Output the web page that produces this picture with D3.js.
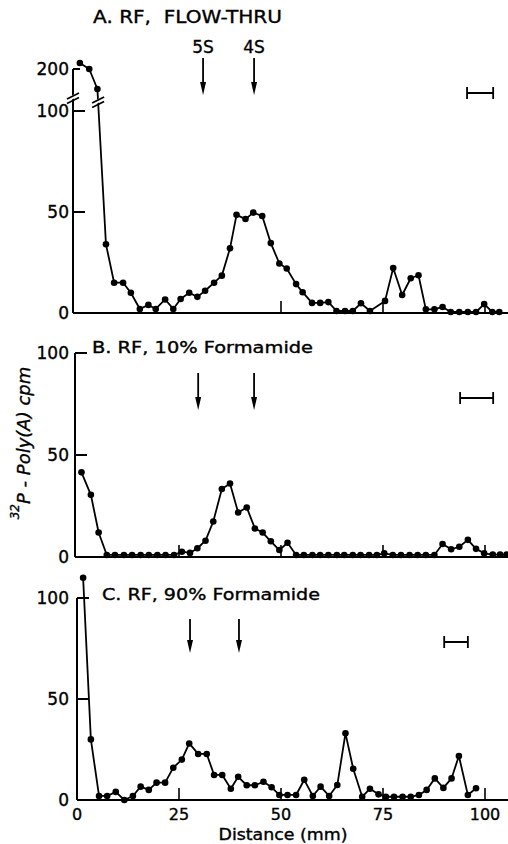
<!DOCTYPE html>
<html>
<head>
<meta charset="utf-8">
<script src="https://cdn.jsdelivr.net/npm/d3@7/dist/d3.min.js"></script>
<style>
  body { margin: 0; background: #fff; }
  text { font-family: "DejaVu Sans", sans-serif; fill: #000; stroke: #000; stroke-width: 0.35; }
</style>
</head>
<body>
<svg id="fig" width="508" height="844"></svg>
<script>
// distance (mm) and 32P-poly(A) cpm
var distA = [0.7,3.0,5.0,7.1,9.1,11.3,13.2,15.4,17.5,19.3,21.6,23.6,25.4,27.5,29.5,31.4,33.6,35.5,37.5,39.1,41.3,43.2,45.4,47.5,49.6,51.4,53.7,55.3,57.6,59.6,61.6,63.6,65.7,67.6,69.6,71.8,75.5,77.5,79.7,81.8,83.7,85.5,87.6,89.6,91.6,93.7,95.8,97.8,99.8,101.8,103.5];
var cpmA  = [203,200,190,34,15,15,10,2,4,2,6.7,2,6.9,10,8,11,15,18.5,32,48.6,46.5,49.7,48,34.6,24.5,22,14.3,10.3,5,5,5.4,1,1,1,4.8,1,6,22.3,8.9,17.2,18.7,1.8,1.8,3,0.5,0.5,0.5,0.5,4.4,0.5,0.5];

var distB = [1.1,3.4,5.3,7.3,9.3,11.5,13.5,15.6,17.6,19.7,21.7,23.8,25.7,27.7,29.5,31.5,33.4,35.5,37.5,39.5,41.6,43.6,45.5,47.5,49.6,51.6,53.7,55.6,57.7,59.6,61.6,63.7,65.5,67.6,69.5,71.6,73.5,75.3,77.4,79.4,81.5,83.5,85.5,87.6,89.6,91.7,93.7,95.8,97.8,99.8,101.9,103.7,105.3];
var cpmB  = [41.5,30.5,12,1,1,1,1,1,1,1,1,1,2.6,2,4.3,8,17.4,33.3,36,21.8,24.3,14,12,7.7,3.4,7,1,1,1,1,1,1,1,1,1,1,1,1.8,1,1,1,1,1,1,6.4,3.8,5,8.4,4,1.8,1.2,1.2,1.2];

var distC = [1.5,3.4,5.4,7.4,9.5,11.6,13.7,15.6,17.6,19.5,21.6,23.6,25.7,27.5,29.7,31.8,33.6,35.6,37.7,39.5,41.6,43.6,45.7,47.7,49.6,51.6,53.7,55.7,57.8,59.7,61.8,63.8,65.8,67.7,69.9,71.8,73.9,75.7,77.7,79.8,81.8,83.8,85.7,87.7,89.8,91.8,93.6,95.8,97.8];
var cpmC  = [110,30,2,2,4,0,2,6.6,5,8.6,8.6,16,20,28,22.8,22.8,12.4,12.4,5.6,11.5,7.3,7.3,9,6.3,2.5,2.5,2.5,10,2,6.6,2,7.4,33,15.5,1.6,5.6,2.8,1.6,1.6,1.6,1.6,2.5,5,10.7,6,10.7,21.8,2.5,5.8];

// marker positions (mm) and bar ends (mm)
var arrowsA = [30.9, 43.4];
var arrowLabelsA = ["5S", "4S"];
var arrowsB = [29.7, 43.4];
var arrowsC = [27.7, 39.7];
var barA = [95.6, 102];
var barB = [93.9, 102];
var barC = [90, 95.8];

var xTickVals = [0, 25, 50, 75, 100];
var yTickValsA = [0, 50, 100];
var yTickValsB = [0, 50, 100];
var yTickValsC = [0, 50, 100];

var svg = d3.select("#fig");
var x = d3.scaleLinear().domain([0, 100]).range([77, 485]);

var panels = [
  {dist: distA, cpm: cpmA, y: d3.scaleLinear().domain([0, 100]).range([313, 111]),
   axisX: 73, yTop: 69, yTicks: yTickValsA, xTicks: [50, 75, 100],
   title: "A. RF,  FLOW-THRU", tx: 93, ty: 23, tlen: 189, tsize: 17,
   arrows: arrowsA, arrowTop: 58, arrowTip: 95, bar: barA, barY: 93},
  {dist: distB, cpm: cpmB, y: d3.scaleLinear().domain([0, 100]).range([557, 353]),
   axisX: 75, yTop: 353, yTicks: yTickValsB, xTicks: [25, 50, 75, 100],
   title: "B. RF, 10% Formamide", tx: 92, ty: 353, tlen: 221, tsize: 15,
   arrows: arrowsB, arrowTop: 373, arrowTip: 410, bar: barB, barY: 398},
  {dist: distC, cpm: cpmC, y: d3.scaleLinear().domain([0, 100]).range([800, 598]),
   axisX: 77, yTop: 598, yTicks: yTickValsC, xTicks: [25, 50, 75, 100],
   title: "C. RF, 90% Formamide", tx: 102, ty: 600, tlen: 218, tsize: 15,
   arrows: arrowsC, arrowTop: 619, arrowTip: 653, bar: barC, barY: 642}
];

// upper part of the broken axis in panel A
var yAtop = d3.scaleLinear().domain([190, 205]).range([89, 59]);
panels[0].yf = v => v > 100 ? yAtop(v) : panels[0].y(v);
panels[1].yf = panels[1].y;
panels[2].yf = panels[2].y;

var ink = "#000";

panels.forEach(function(p, i) {
  var g = svg.append("g");
  var y0 = p.y(0);

  // axes
  g.append("line").attr("x1", p.axisX).attr("x2", 508).attr("y1", y0).attr("y2", y0)
    .attr("stroke", ink).attr("stroke-width", 2);
  g.append("line").attr("x1", p.axisX).attr("x2", p.axisX).attr("y1", p.yTop).attr("y2", y0)
    .attr("stroke", ink).attr("stroke-width", 2);

  g.selectAll(".yt").data(p.yTicks).enter().append("line")
    .attr("x1", p.axisX).attr("x2", p.axisX + 12)
    .attr("y1", d => p.y(d)).attr("y2", d => p.y(d))
    .attr("stroke", ink).attr("stroke-width", 2);
  g.selectAll(".yl").data(p.yTicks).enter().append("text")
    .attr("x", 69).attr("y", d => p.y(d)).attr("dy", "0.36em")
    .attr("text-anchor", "end").attr("font-size", 17)
    .text(d => d);

  g.selectAll(".xt").data(p.xTicks).enter().append("line")
    .attr("x1", d => x(d)).attr("x2", d => x(d))
    .attr("y1", y0).attr("y2", y0 - 12)
    .attr("stroke", ink).attr("stroke-width", 1.6);

  // profile
  var line = d3.line().x(d => x(d[0])).y(d => p.yf(d[1]));
  var pts = d3.zip(p.dist, p.cpm);
  g.append("path").datum(pts).attr("d", line)
    .attr("fill", "none").attr("stroke", ink).attr("stroke-width", 1.8)
    .attr("stroke-linejoin", "round");
  g.selectAll("circle").data(pts).enter().append("circle")
    .attr("cx", d => x(d[0])).attr("cy", d => p.yf(d[1])).attr("r", 3.3)
    .attr("fill", ink);

  // title
  g.append("text").attr("x", p.tx).attr("y", p.ty)
    .attr("font-size", p.tsize).attr("textLength", p.tlen)
    .attr("lengthAdjust", "spacingAndGlyphs")
    .style("white-space", "pre")
    .text(p.title);

  // sedimentation markers
  p.arrows.forEach(function(a) {
    var ax = x(a);
    g.append("line").attr("x1", ax).attr("x2", ax).attr("y1", p.arrowTop).attr("y2", p.arrowTip - 10)
      .attr("stroke", ink).attr("stroke-width", 1.8);
    g.append("path")
      .attr("d", `M${ax - 3},${p.arrowTip - 13}L${ax + 3},${p.arrowTip - 13}L${ax},${p.arrowTip}Z`)
      .attr("fill", ink);
  });

  // bar
  var b0 = x(p.bar[0]), b1 = x(p.bar[1]);
  g.append("path")
    .attr("d", `M${b0},${p.barY - 6}V${p.barY + 6}M${b0},${p.barY}H${b1}M${b1},${p.barY - 6}V${p.barY + 6}`)
    .attr("fill", "none").attr("stroke", ink).attr("stroke-width", 1.8);
});

// arrow labels for panel A
svg.selectAll(".al").data(arrowsA).enter().append("text")
  .attr("x", d => x(d)).attr("y", 53).attr("text-anchor", "middle")
  .attr("font-size", 17)
  .text((d, i) => arrowLabelsA[i]);

// 200 tick on the broken axis
svg.append("line").attr("x1", 73).attr("x2", 80).attr("y1", yAtop(200)).attr("y2", yAtop(200))
  .attr("stroke", ink).attr("stroke-width", 2);
svg.append("text").attr("x", 69).attr("y", yAtop(200)).attr("dy", "0.36em")
  .attr("text-anchor", "end").attr("font-size", 17).text("200");

// break marks: on the axis and on the descending line
function breakMark(cx, cy) {
  svg.append("path")
    .attr("d", `M${cx - 8},${cy + 1}L${cx + 8},${cy - 7}L${cx + 8},${cy - 3}L${cx - 8},${cy + 5}Z`)
    .attr("fill", "#fff");
  [0, 4.5].forEach(function(o) {
    svg.append("line")
      .attr("x1", cx - 6).attr("y1", cy + 1 + o).attr("x2", cx + 6).attr("y2", cy - 5 + o)
      .attr("stroke", ink).attr("stroke-width", 1.8);
  });
}
breakMark(73, 98);
var xa = x(distA[2]), ya = yAtop(cpmA[2]), xb = x(distA[3]), yb = panels[0].y(cpmA[3]);
var cyb = 102;
breakMark(xa + (xb - xa) * (cyb - ya) / (yb - ya), cyb);

// x labels for bottom panel
svg.selectAll(".xl").data(xTickVals).enter().append("text")
  .attr("x", d => x(d)).attr("y", 820).attr("text-anchor", "middle")
  .attr("font-size", 16).text(d => d);

svg.append("text").attr("x", 283).attr("y", 840).attr("text-anchor", "middle")
  .attr("font-size", 15).attr("textLength", 129).attr("lengthAdjust", "spacingAndGlyphs")
  .text("Distance (mm)");

// y axis title
var yt = svg.append("text").attr("transform", "translate(26,443) rotate(-90)")
  .attr("text-anchor", "middle").attr("font-size", 18).attr("font-style", "italic");
yt.append("tspan").attr("font-size", 12).attr("dy", "-0.6em").text("32");
yt.append("tspan").attr("dy", "0.6em").text("P - Poly(A) cpm");
</script>
</body>
</html>
